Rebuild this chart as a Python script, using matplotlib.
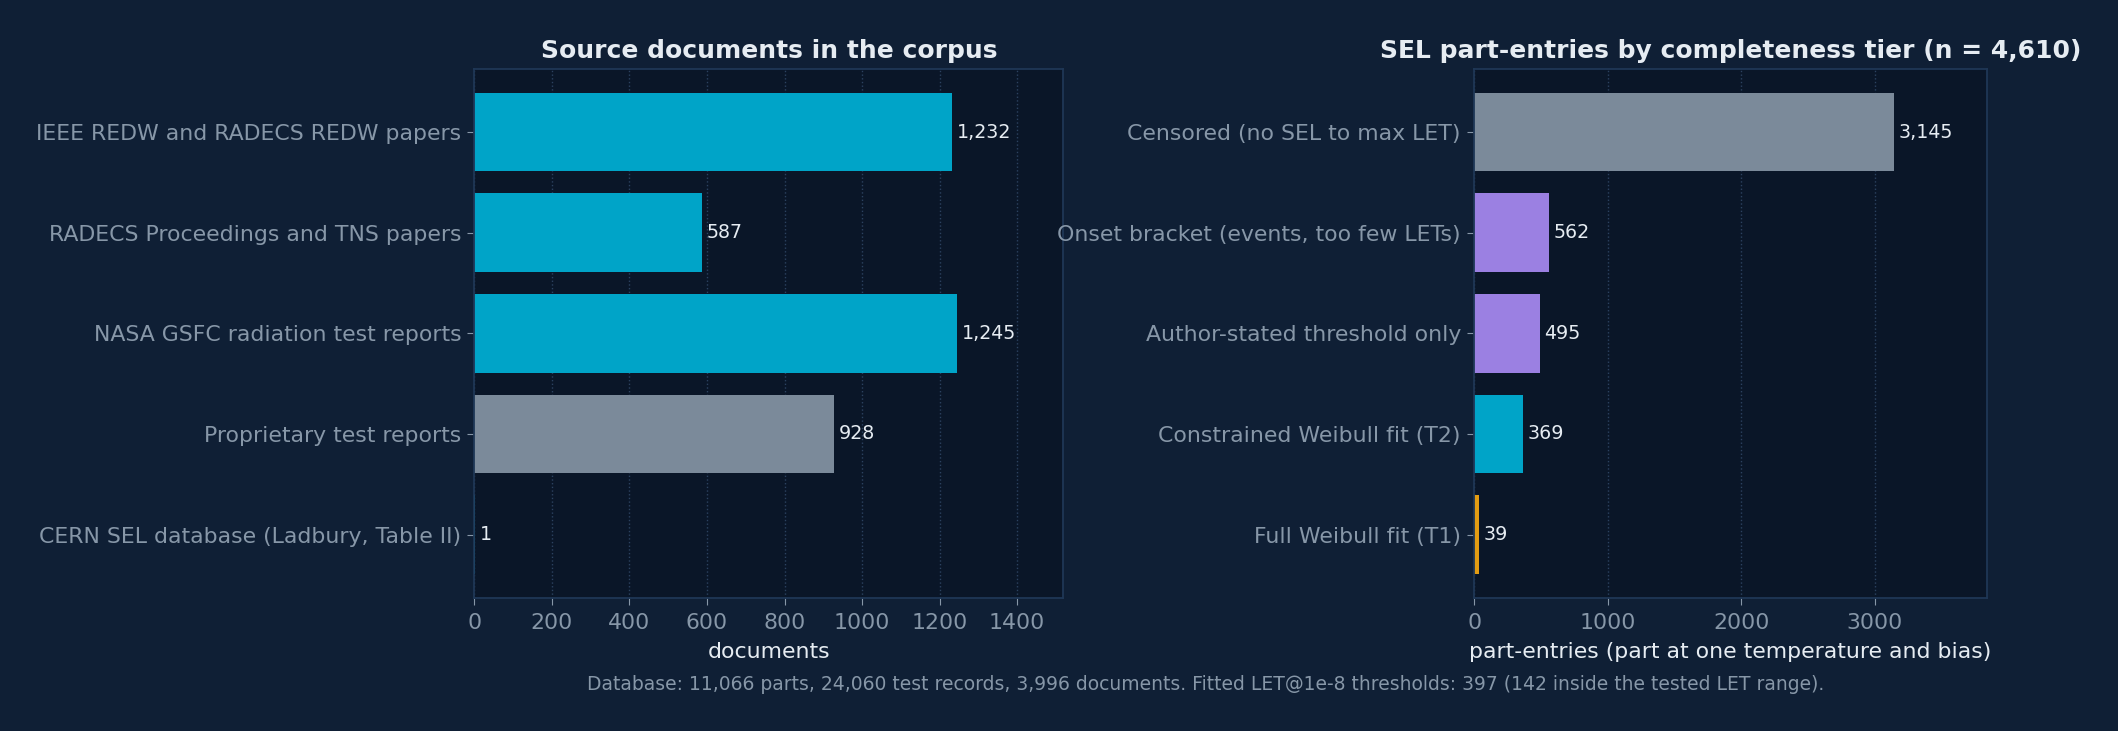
import matplotlib
matplotlib.use("Agg")
import matplotlib.pyplot as plt
from matplotlib.ticker import MultipleLocator

BG = '#0f1f35'
AX_BG = '#0a1628'
SPINE = '#1f3756'
TICK = '#8797a8'
TEXT = '#e6ecf2'
CYAN = '#00a4c8'
GREY = '#7b8a9a'
PURPLE = '#9b80e2'
ORANGE = '#e39c12'

# left panel: source documents
doc_sources = ['IEEE REDW and RADECS REDW papers', 'RADECS Proceedings and TNS papers',
               'NASA GSFC radiation test reports', 'Proprietary test reports',
               'CERN SEL database (Ladbury, Table II)']
doc_counts = [1232, 587, 1245, 928, 1]
doc_colors = [CYAN, CYAN, CYAN, GREY, CYAN]

# right panel: completeness tiers
tier_names = ['Censored (no SEL to max LET)', 'Onset bracket (events, too few LETs)',
              'Author-stated threshold only', 'Constrained Weibull fit (T2)',
              'Full Weibull fit (T1)']
tier_counts = [3145, 562, 495, 369, 39]
tier_colors = [GREY, PURPLE, PURPLE, CYAN, ORANGE]

footer = ("Database: 11,066 parts, 24,060 test records, 3,996 documents. "
          "Fitted LET@1e-8 thresholds: 397 (142 inside the tested LET range).")

fig = plt.figure(figsize=(21.18, 7.31), dpi=100, facecolor=BG)
ax1 = fig.add_axes([0.224, 0.182, 0.278, 0.724])
ax2 = fig.add_axes([0.696, 0.182, 0.242, 0.724])


def panel(ax, names, counts, colors, title, xlabel, step):
    ax.set_facecolor(AX_BG)
    y = list(range(len(names)))
    ax.barh(y, counts, height=0.78, color=colors, zorder=2)
    ax.invert_yaxis()
    ax.set_yticks(y)
    ax.set_yticklabels(names)
    xmax = max(counts) * 1.22
    ax.set_xlim(0, xmax)
    ax.xaxis.set_major_locator(MultipleLocator(step))
    for yi, v in zip(y, counts):
        ax.text(v + xmax * 0.008, yi, f'{v:,}', va='center', ha='left',
                color=TEXT, fontsize=13.7, zorder=3)
    ax.grid(axis='x', linestyle=':', color='#2c4260', linewidth=1.0, zorder=0)
    ax.set_axisbelow(True)
    for s in ax.spines.values():
        s.set_color(SPINE)
        s.set_linewidth(1.3)
    ax.tick_params(colors=TICK, labelsize=15.8, length=5)
    ax.tick_params(axis='x', pad=6)
    ax.tick_params(axis='y', pad=4.5)
    ax.set_title(title, color=TEXT, fontsize=18, fontweight='bold', pad=8)
    ax.set_xlabel(xlabel, color=TEXT, fontsize=15.8, labelpad=6)


panel(ax1, doc_sources, doc_counts, doc_colors,
      'Source documents in the corpus', 'documents', 200)
panel(ax2, tier_names, tier_counts, tier_colors,
      'SEL part-entries by completeness tier (n = 4,610)',
      'part-entries (part at one temperature and bias)', 1000)

fig.text(0.569, 0.064, footer, ha='center', va='center', color=TICK, fontsize=13.5)

fig.savefig('out.png', dpi=100, facecolor=BG)
